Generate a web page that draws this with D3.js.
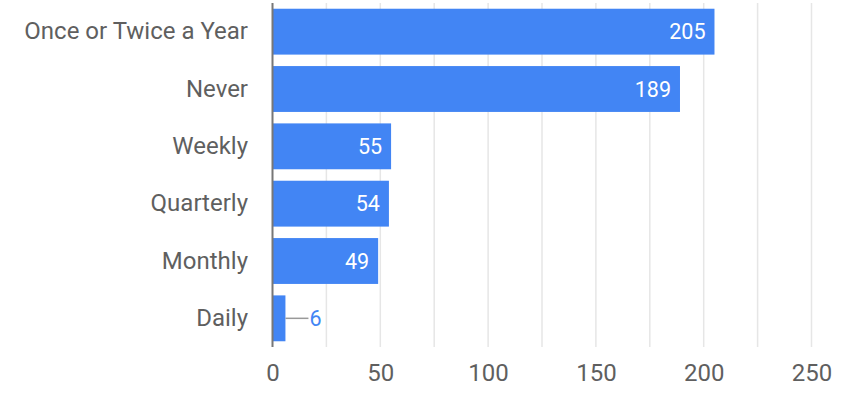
<!DOCTYPE html>
<html><head><meta charset="utf-8">
<script src="https://cdn.jsdelivr.net/npm/d3@7"></script>
<style>body{margin:0;background:#fff}svg{display:block}text{font-family:Roboto,sans-serif}</style>
</head><body><svg id="c" width="848" height="400"></svg>
<script>
const categories = ["Once or Twice a Year","Never","Weekly","Quarterly","Monthly","Daily"];
const values = [205,189,55,54,49,6];
const tickValues = [0,50,100,150,200,250];
const gridValues = [25,50,75,100,125,150,175,200,225,250];

const svg = d3.select("#c");
const pL = 272.5, pR = 811.5, pT = 3, pB = 347;
const x = d3.scaleLinear().domain([0,250]).range([pL,pR]);
const y = d3.scaleBand().domain(categories).range([pT,pB]).paddingInner(0.2).paddingOuter(0.1);

svg.append("g").selectAll("line").data(gridValues).join("line")
  .attr("x1",d=>x(d)).attr("x2",d=>x(d)).attr("y1",pT).attr("y2",pB)
  .attr("stroke","#e6e6e6").attr("stroke-width",1.5);

svg.append("g").selectAll("rect").data(values).join("rect")
  .attr("x",x(0)).attr("y",(d,i)=>y(categories[i]))
  .attr("width",d=>x(d)-x(0)).attr("height",y.bandwidth())
  .attr("fill","#4285f4");

svg.append("line").attr("x1",x(0)).attr("x2",x(0)).attr("y1",pT).attr("y2",pB)
  .attr("stroke","#777").attr("stroke-width",2);

const fsBar = 21.5, fsAxis = 24;
values.forEach((v,i)=>{
  const cy = y(categories[i]) + y.bandwidth()/2;
  if (x(v)-x(0) > 40) {
    svg.append("text").attr("x",x(v)-9).attr("y",cy).attr("dy","0.35em")
      .attr("text-anchor","end").attr("fill","#fff").attr("font-size",fsBar).text(v);
  } else {
    svg.append("line").attr("x1",x(v)).attr("x2",x(v)+23).attr("y1",cy).attr("y2",cy)
      .attr("stroke","#999").attr("stroke-width",1.5);
    svg.append("text").attr("x",x(v)+24).attr("y",cy).attr("dy","0.35em")
      .attr("text-anchor","start").attr("fill","#4285f4").attr("font-size",fsBar).text(v);
  }
});

const yAxis = d3.axisLeft(y).tickSize(0).tickPadding(0);
const ya = svg.append("g").attr("transform",`translate(${pL-24.5},0)`).call(yAxis);
ya.select(".domain").remove();
ya.selectAll("text").attr("font-size",fsAxis).attr("fill","#5f5f5f").attr("font-family","Roboto,sans-serif");

const xAxis = d3.axisBottom(x).tickValues(tickValues).tickSize(0).tickPadding(0);
const xa = svg.append("g").attr("transform",`translate(0,364)`).call(xAxis);
xa.select(".domain").remove();
xa.selectAll("text").attr("font-size",fsAxis).attr("fill","#5f5f5f").attr("font-family","Roboto,sans-serif");
</script></body></html>
